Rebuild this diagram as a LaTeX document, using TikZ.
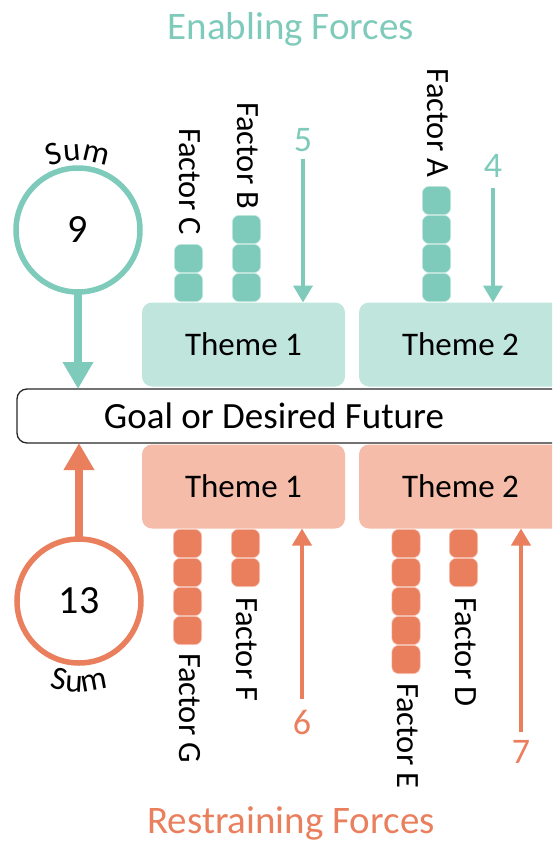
\documentclass[tikz,border=0pt]{standalone}
\usepackage{fontspec}
\setmainfont{Carlito}
\usetikzlibrary{arrows.meta,decorations.text}
\definecolor{tealc}{RGB}{127,203,187}
\definecolor{teall}{RGB}{191,229,221}
\definecolor{orangec}{RGB}{234,127,94}
\definecolor{orangel}{RGB}{244,188,169}
\begin{document}
\begin{tikzpicture}[x=1pt,y=1pt,
  every node/.style={inner sep=0pt, outer sep=0pt},
  fs/.style={font=\fontsize{#1}{#1}\selectfont},
  themebox/.style={rounded corners=10pt, minimum width=203pt, minimum height=84pt, fs=33},
  block/.style={rounded corners=7pt, minimum size=28.4pt, line width=0.6pt},
  tblock/.style={block, fill=tealc, draw=white!55!tealc},
  oblock/.style={block, fill=orangec, draw=white!55!orangec},
  factorlabel/.style={rotate=-90, anchor=west, fs=32.5},
  numlabel/.style={fs=36},
  sumcircle/.style={circle, minimum size=124pt, line width=5.5pt, fill=white, fs=40},
  bigarrow/.style={line width=8pt, -{Triangle[width=29pt,length=27pt]}},
  smallarrow/.style={line width=4pt, -{Triangle[width=19pt,length=17pt]}},
  sumtext/.style={decorate, decoration={text along path, text align=center,
      text={|\fontsize{33}{33}\selectfont|Sum}}}
]
\clip (0,0) rectangle (552,-843);

% headings
\node[fs=39, text=tealc, anchor=base] (enabling) at (291,-40) {Enabling Forces};
\node[fs=39, text=orangec, anchor=base] (restraining) at (291,-833) {Restraining Forces};

% the goal bar across the middle
\node[draw=black!85, line width=1.3pt, rounded corners=10pt, anchor=west,
      minimum width=600pt, minimum height=54pt] (goal) at (17,-416) {};
\node[fs=37] (goaltext) at (274,-416) {Goal or Desired Future};

% themes
\node[themebox, fill=teall] (et1) at (243.5,-344.5) {Theme 1};
\node[themebox, fill=teall] (et2) at (460.5,-344.5) {Theme 2};
\node[themebox, fill=orangel] (rt1) at (243.5,-486.5) {Theme 1};
\node[themebox, fill=orangel] (rt2) at (460.5,-486.5) {Theme 2};

% enabling factor stacks
\foreach \i in {1,2}   \node[tblock] (C\i) at (188.5,{-287.5+29*(\i-1)}) {};
\foreach \i in {1,2,3} \node[tblock] (B\i) at (246.5,{-287.5+29*(\i-1)}) {};
\foreach \i in {1,...,4} \node[tblock] (A\i) at (436.5,{-287.5+29*(\i-1)}) {};
\node[factorlabel] (fC) at (190,-128) {Factor C};
\node[factorlabel] (fB) at (247.5,-102) {Factor B};
\node[factorlabel] (fA) at (437.5,-69) {Factor A};

% restraining factor stacks
\foreach \i in {1,...,4} \node[oblock] (G\i) at (187.5,{-543.5-29*(\i-1)}) {};
\foreach \i in {1,2}     \node[oblock] (F\i) at (245.5,{-543.5-29*(\i-1)}) {};
\foreach \i in {1,...,5} \node[oblock] (E\i) at (406,{-543.5-29*(\i-1)}) {};
\foreach \i in {1,2}     \node[oblock] (D\i) at (463.5,{-543.5-29*(\i-1)}) {};
\node[factorlabel] (fG) at (189.5,-653) {Factor G};
\node[factorlabel] (fF) at (246.5,-597) {Factor F};
\node[factorlabel] (fE) at (407.5,-683) {Factor E};
\node[factorlabel] (fD) at (465.5,-597) {Factor D};

% theme totals
\node[numlabel, text=tealc] (n5) at (303,-140) {5};
\node[numlabel, text=tealc] (n4) at (493,-166) {4};
\node[numlabel, text=orangec] (n6) at (302,-722) {6};
\node[numlabel, text=orangec] (n7) at (521,-752) {7};
\draw[smallarrow, draw=tealc, shorten <=7pt] (n5) -- (n5 |- et1.north);
\draw[smallarrow, draw=tealc, shorten <=10pt] (n4) -- (n4 |- et2.north);
\draw[smallarrow, draw=orangec, shorten <=11pt] (n6) -- (n6 |- rt1.south);
\draw[smallarrow, draw=orangec, shorten <=8pt] (n7) -- (n7 |- rt2.south);

% sums
\node[sumcircle, draw=tealc] (s1) at (78,-230) {9};
\node[sumcircle, draw=orangec] (s2) at (79,-601) {13};
\draw[bigarrow, draw=tealc] (s1.south) -- (s1.south |- goal.north);
\draw[bigarrow, draw=orangec] (s2.north) -- (s2.north |- goal.south);
\path[sumtext] ([shift={(140:69)}]s1.center) arc[start angle=140, end angle=40, radius=69];
\path[sumtext] ([shift={(235:91)}]s2.center) arc[start angle=235, end angle=305, radius=91];
\end{tikzpicture}
\end{document}
